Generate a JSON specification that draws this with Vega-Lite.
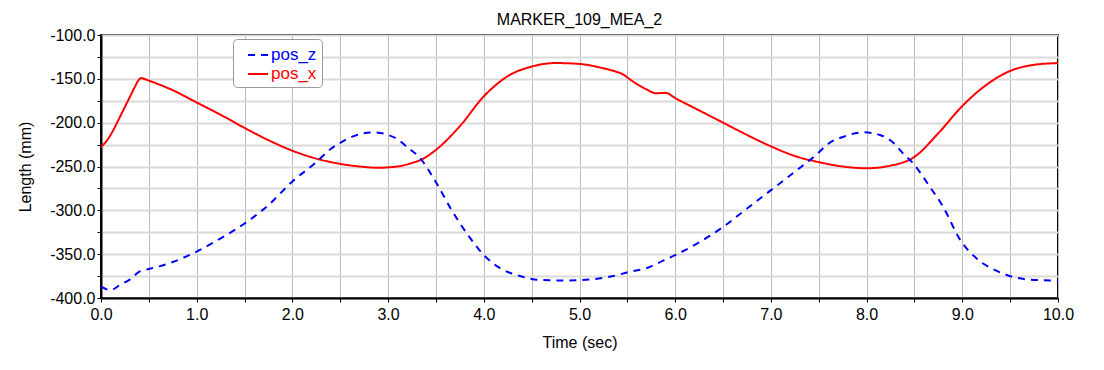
{
  "$schema": "https://vega.github.io/schema/vega-lite/v6.json",
  "width": 957,
  "height": 263,
  "autosize": {"type": "none"},
  "padding": {"left": 101, "top": 35, "right": 46, "bottom": 72},
  "background": "white",
  "title": {
    "text": "MARKER_109_MEA_2",
    "fontSize": 16,
    "fontWeight": "normal",
    "font": "Liberation Sans",
    "color": "black",
    "offset": -1
  },
  "data": {
    "values": [
      {"t": 0.0, "s": "pos_x", "v": -228},
      {"t": 0.05, "s": "pos_x", "v": -222},
      {"t": 0.1, "s": "pos_x", "v": -214},
      {"t": 0.15, "s": "pos_x", "v": -204},
      {"t": 0.2, "s": "pos_x", "v": -193},
      {"t": 0.25, "s": "pos_x", "v": -182},
      {"t": 0.3, "s": "pos_x", "v": -171},
      {"t": 0.35, "s": "pos_x", "v": -160},
      {"t": 0.39, "s": "pos_x", "v": -152},
      {"t": 0.42, "s": "pos_x", "v": -149},
      {"t": 0.45, "s": "pos_x", "v": -150},
      {"t": 0.5, "s": "pos_x", "v": -152},
      {"t": 0.75, "s": "pos_x", "v": -163},
      {"t": 1.0, "s": "pos_x", "v": -177},
      {"t": 1.25, "s": "pos_x", "v": -191},
      {"t": 1.5, "s": "pos_x", "v": -206},
      {"t": 1.75, "s": "pos_x", "v": -220},
      {"t": 2.0, "s": "pos_x", "v": -232},
      {"t": 2.25, "s": "pos_x", "v": -241},
      {"t": 2.5, "s": "pos_x", "v": -247},
      {"t": 2.75, "s": "pos_x", "v": -250.5},
      {"t": 2.9, "s": "pos_x", "v": -251.5},
      {"t": 3.0, "s": "pos_x", "v": -251},
      {"t": 3.15, "s": "pos_x", "v": -249},
      {"t": 3.25, "s": "pos_x", "v": -246},
      {"t": 3.35, "s": "pos_x", "v": -242},
      {"t": 3.5, "s": "pos_x", "v": -231},
      {"t": 3.75, "s": "pos_x", "v": -204},
      {"t": 4.0, "s": "pos_x", "v": -170},
      {"t": 4.25, "s": "pos_x", "v": -147},
      {"t": 4.5, "s": "pos_x", "v": -136},
      {"t": 4.75, "s": "pos_x", "v": -132},
      {"t": 5.0, "s": "pos_x", "v": -133},
      {"t": 5.25, "s": "pos_x", "v": -138},
      {"t": 5.4, "s": "pos_x", "v": -142.5},
      {"t": 5.45, "s": "pos_x", "v": -144.5},
      {"t": 5.5, "s": "pos_x", "v": -148.5},
      {"t": 5.6, "s": "pos_x", "v": -156},
      {"t": 5.7, "s": "pos_x", "v": -162},
      {"t": 5.8, "s": "pos_x", "v": -166.5},
      {"t": 5.9, "s": "pos_x", "v": -166},
      {"t": 6.0, "s": "pos_x", "v": -172},
      {"t": 6.25, "s": "pos_x", "v": -186},
      {"t": 6.5, "s": "pos_x", "v": -200},
      {"t": 6.75, "s": "pos_x", "v": -214},
      {"t": 7.0, "s": "pos_x", "v": -227},
      {"t": 7.25, "s": "pos_x", "v": -238},
      {"t": 7.5, "s": "pos_x", "v": -245},
      {"t": 7.75, "s": "pos_x", "v": -250},
      {"t": 8.0, "s": "pos_x", "v": -252},
      {"t": 8.25, "s": "pos_x", "v": -249},
      {"t": 8.5, "s": "pos_x", "v": -239},
      {"t": 8.75, "s": "pos_x", "v": -212},
      {"t": 9.0, "s": "pos_x", "v": -181},
      {"t": 9.25, "s": "pos_x", "v": -157},
      {"t": 9.5, "s": "pos_x", "v": -141},
      {"t": 9.75, "s": "pos_x", "v": -134},
      {"t": 10.0, "s": "pos_x", "v": -132},
      {"t": 0.0, "s": "pos_z", "v": -387},
      {"t": 0.1, "s": "pos_z", "v": -391},
      {"t": 0.2, "s": "pos_z", "v": -385},
      {"t": 0.3, "s": "pos_z", "v": -379},
      {"t": 0.4, "s": "pos_z", "v": -370},
      {"t": 0.5, "s": "pos_z", "v": -367},
      {"t": 0.75, "s": "pos_z", "v": -359},
      {"t": 1.0, "s": "pos_z", "v": -347},
      {"t": 1.25, "s": "pos_z", "v": -332},
      {"t": 1.5, "s": "pos_z", "v": -315},
      {"t": 1.75, "s": "pos_z", "v": -294},
      {"t": 2.0, "s": "pos_z", "v": -267},
      {"t": 2.25, "s": "pos_z", "v": -245},
      {"t": 2.4, "s": "pos_z", "v": -230},
      {"t": 2.5, "s": "pos_z", "v": -223},
      {"t": 2.65, "s": "pos_z", "v": -215},
      {"t": 2.85, "s": "pos_z", "v": -211},
      {"t": 3.0, "s": "pos_z", "v": -214},
      {"t": 3.1, "s": "pos_z", "v": -219},
      {"t": 3.2, "s": "pos_z", "v": -228},
      {"t": 3.33, "s": "pos_z", "v": -240},
      {"t": 3.5, "s": "pos_z", "v": -268},
      {"t": 3.66, "s": "pos_z", "v": -299},
      {"t": 3.86, "s": "pos_z", "v": -332},
      {"t": 4.0, "s": "pos_z", "v": -351},
      {"t": 4.17, "s": "pos_z", "v": -366},
      {"t": 4.38, "s": "pos_z", "v": -375},
      {"t": 4.59, "s": "pos_z", "v": -379.5},
      {"t": 4.87, "s": "pos_z", "v": -380},
      {"t": 5.14, "s": "pos_z", "v": -378.5},
      {"t": 5.35, "s": "pos_z", "v": -375},
      {"t": 5.53, "s": "pos_z", "v": -370},
      {"t": 5.7, "s": "pos_z", "v": -366},
      {"t": 5.88, "s": "pos_z", "v": -357},
      {"t": 6.02, "s": "pos_z", "v": -350},
      {"t": 6.26, "s": "pos_z", "v": -336},
      {"t": 6.5, "s": "pos_z", "v": -319},
      {"t": 6.75, "s": "pos_z", "v": -298},
      {"t": 7.0, "s": "pos_z", "v": -277},
      {"t": 7.25, "s": "pos_z", "v": -256},
      {"t": 7.48, "s": "pos_z", "v": -236},
      {"t": 7.6, "s": "pos_z", "v": -224},
      {"t": 7.76, "s": "pos_z", "v": -216},
      {"t": 7.97, "s": "pos_z", "v": -211},
      {"t": 8.14, "s": "pos_z", "v": -214},
      {"t": 8.28, "s": "pos_z", "v": -223},
      {"t": 8.38, "s": "pos_z", "v": -235},
      {"t": 8.49, "s": "pos_z", "v": -247},
      {"t": 8.66, "s": "pos_z", "v": -273},
      {"t": 8.8, "s": "pos_z", "v": -296},
      {"t": 8.98, "s": "pos_z", "v": -334},
      {"t": 9.15, "s": "pos_z", "v": -355},
      {"t": 9.36, "s": "pos_z", "v": -369},
      {"t": 9.57, "s": "pos_z", "v": -377},
      {"t": 9.78, "s": "pos_z", "v": -379.5},
      {"t": 10.0, "s": "pos_z", "v": -380}
    ]
  },
  "mark": {"type": "line", "strokeWidth": 2, "clip": true, "interpolate": "monotone"},
  "encoding": {
    "x": {
      "field": "t",
      "type": "quantitative",
      "scale": {"domain": [0, 10], "nice": false, "zero": false},
      "axis": {
        "title": "Time (sec)",
        "values": [0, 0.5, 1, 1.5, 2, 2.5, 3, 3.5, 4, 4.5, 5, 5.5, 6, 6.5, 7, 7.5, 8, 8.5, 9, 9.5, 10],
        "labelExpr": "datum.value % 1 == 0 ? format(datum.value, '.1f') : ''",
        "labelOverlap": false,
        "labelFlush": false,
        "gridColor": "#bbbbbb",
        "gridWidth": 1,
        "labelPadding": 4,
        "titlePadding": 12
      }
    },
    "y": {
      "field": "v",
      "type": "quantitative",
      "scale": {"domain": [-400, -100], "nice": false, "zero": false},
      "axis": {
        "title": "Length (mm)",
        "values": [-400, -375, -350, -325, -300, -275, -250, -225, -200, -175, -150, -125, -100],
        "labelExpr": "datum.value % 50 == 0 ? replace(format(datum.value, '.1f'), '\u2212', '-') : ''",
        "labelOverlap": false,
        "labelFlush": false,
        "gridColor": "#dadada",
        "gridWidth": 2,
        "labelPadding": 2,
        "titlePadding": 16
      }
    },
    "color": {
      "field": "s",
      "type": "nominal",
      "scale": {"domain": ["pos_z", "pos_x"], "range": ["#0000ff", "#ff0000"]},
      "legend": {
        "title": null,
        "orient": "none",
        "legendX": 132,
        "legendY": 4,
        "fillColor": "white",
        "strokeColor": "#999999",
        "cornerRadius": 4,
        "padding": 5,
        "symbolOffset": 9,
        "symbolSize": 400,
        "symbolStrokeWidth": 2,
        "rowPadding": 0,
        "labelOffset": 2,
        "labelFontSize": 17,
        "labelFont": "Liberation Sans",
        "encode": {
          "labels": {"update": {
            "fill": {"signal": "datum.label === 'pos_z' ? '#0000ff' : '#ff0000'"},
            "fontSize": {"value": 17}
          }}
        }
      }
    },
    "strokeDash": {
      "field": "s",
      "type": "nominal",
      "scale": {"domain": ["pos_z", "pos_x"], "range": [[7, 6], [1, 0]]},
      "legend": null
    }
  },
  "config": {
    "font": "Liberation Sans",
    "view": {"stroke": "black", "strokeWidth": 2},
    "legend": {"labelFontSize": 17},
    "axis": {
      "labelFont": "Liberation Sans",
      "titleFont": "Liberation Sans",
      "labelFontSize": 16,
      "titleFontSize": 16,
      "titleFontWeight": "normal",
      "labelColor": "black",
      "titleColor": "black",
      "domainColor": "black",
      "domainWidth": 2,
      "tickColor": "black",
      "tickSize": 4,
      "grid": true
    }
  }
}
